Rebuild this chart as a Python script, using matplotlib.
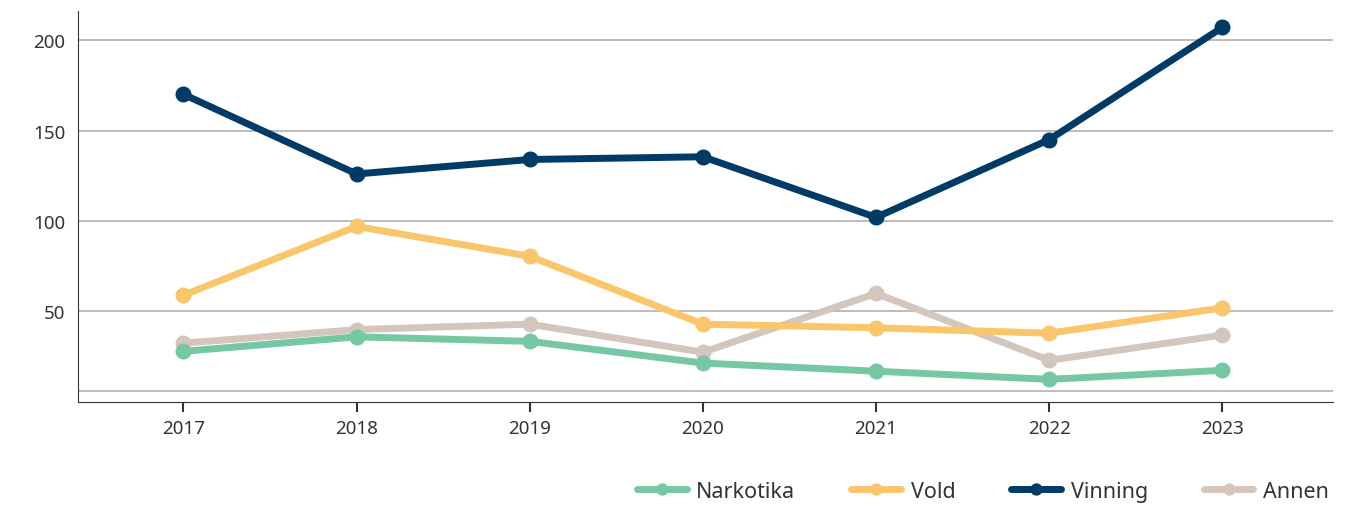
import numpy as np
import matplotlib.pyplot as plt

plt.rcParams['font.family'] = ['Noto Sans', 'DejaVu Sans']

years = [2017, 2018, 2019, 2020, 2021, 2022, 2023]
narkotika = [28, 36, 33.5, 21.5, 17, 12.5, 17.5]
vold = [59, 97, 80.5, 43, 41, 38, 52]
vinning = [170, 126, 134, 135.5, 102, 145, 207]
annen = [32.5, 40, 43, 27.5, 60, 23, 37]

series = [
    ("Narkotika", narkotika, "#76c8a4", 3),
    ("Vold", vold, "#f9c66b", 4),
    ("Vinning", vinning, "#003a66", 5),
    ("Annen", annen, "#d4c6bc", 2),
]

fig = plt.figure(figsize=(13.66, 5.06), dpi=100)
ax = fig.add_axes([0.057, 0.2036, 0.919, 0.7725])

for name, vals, col, z in series:
    ax.plot(years, vals, color=col, lw=5, marker='o', ms=10.5,
            solid_capstyle='round', label=name, zorder=z)

ax.set_xlim(2016.39, 2023.64)
ax.set_ylim(0, 216)
ax.set_yticks([50, 100, 150, 200])
ax.set_xticks(years)
for v in [6.2, 50, 100, 150, 200]:
    ax.axhline(v, color='#aaaaaa', lw=1.1, zorder=0)

for s in ['top', 'right']:
    ax.spines[s].set_visible(False)
ax.spines['left'].set_color('#333333')
ax.spines['bottom'].set_color('#333333')
ax.tick_params(axis='y', length=0, labelsize=13.5, colors='#333333', pad=9)
ax.tick_params(axis='x', length=7, width=1.5, direction='out',
               labelsize=13.5, colors='#333333', labelcolor='#333333', pad=5)

handles, labels = ax.get_legend_handles_labels()
leg = fig.legend(handles, labels, loc='lower right', ncol=4, frameon=False,
                 bbox_to_anchor=(0.987, -0.032), fontsize=15.5,
                 handlelength=2.3, columnspacing=2.6, handletextpad=0.45,
                 markerscale=0.75)
for t in leg.get_texts():
    t.set_color('#333333')

fig.savefig('out.png', dpi=100)
